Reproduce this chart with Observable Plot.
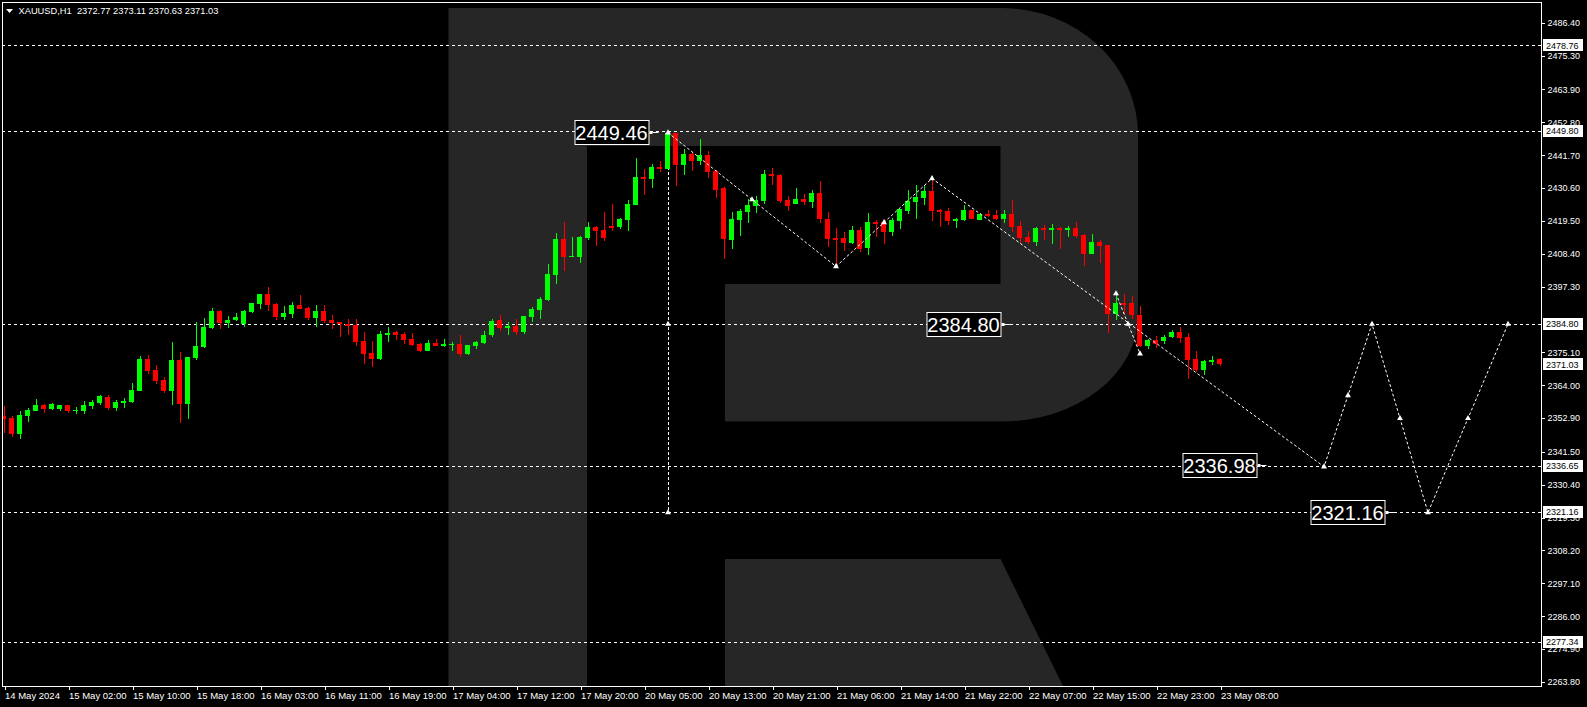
<!DOCTYPE html>
<html><head><meta charset="utf-8">
<script src="https://cdn.jsdelivr.net/npm/d3@7"></script>
<script src="https://cdn.jsdelivr.net/npm/@observablehq/plot@0.6"></script>
<style>
html,body{margin:0;padding:0;background:#000;}
#chart{width:1587px;height:707px;overflow:hidden;}
</style></head><body><div id="chart"></div>
<script>
// ---- Data (XAUUSD H1) ----
const opens = [2353.72,2353.05,2347.53,2353.61,2355.41,2357.33,2355.98,2356.09,2357.21,2355.41,2355.41,2356.99,2358.00,2360.03,2356.43,2358.00,2358.34,2362.17,2372.86,2369.15,2365.77,2362.17,2372.52,2357.78,2373.31,2376.91,2383.44,2389.07,2385.13,2386.14,2384.68,2388.85,2391.55,2394.81,2391.43,2387.16,2388.17,2391.10,2390.08,2386.82,2389.07,2386.03,2385.36,2384.79,2384.34,2378.94,2374.89,2372.86,2381.08,2381.98,
2381.31,2379.62,2377.93,2375.57,2378.27,2377.25,2377.70,2377.93,2374.55,2377.25,2378.27,2380.97,2386.03,2383.45,2384.01,2381.98,2387.05,2389.41,2392.79,2401.23,2413.39,2407.31,2407.31,2413.73,2417.44,2416.43,2417.89,2417.44,2419.80,2424.87,2434.32,2433.65,2437.70,2437.03,2449.20,2438.38,2442.09,2439.73,2441.75,2436.35,2430.61,2413.05,2419.81,2422.51,2424.53,2426.22,2435.34,2435.00,2426.56,2425.21,
2426.90,2425.88,2428.92,2420.14,2413.73,2413.73,2412.04,2416.43,2410.35,2419.13,2419.13,2415.75,2419.47,2422.85,2425.88,2427.24,2429.60,2423.18,2422.85,2419.47,2419.81,2423.18,2419.81,2421.83,2421.49,2420.14,2421.82,2417.77,2414.06,2412.37,2417.10,2416.53,2417.10,2416.53,2417.10,2414.73,2408.32,2412.37,2411.36,2388.05,2391.77,2391.77,2387.72,2377.25,2379.27,2378.94,2380.29,2381.98,2380.29,2372.86,
2369.14,2371.84,2372.77];
const highs = [2356.99,2353.61,2355.30,2356.31,2359.35,2357.66,2358.11,2357.21,2357.21,2356.65,2358.68,2359.01,2360.70,2360.70,2359.01,2359.69,2364.76,2373.87,2374.21,2370.83,2366.78,2378.60,2375.22,2373.54,2385.36,2386.71,2390.08,2389.41,2387.38,2388.40,2389.41,2391.77,2394.81,2397.18,2391.77,2390.76,2392.11,2394.47,2390.42,2391.10,2391.10,2387.72,2385.36,2386.37,2386.37,2381.98,2378.94,2382.32,2383.67,2382.32,
2381.98,2381.64,2378.27,2379.28,2379.62,2379.62,2378.61,2380.97,2377.59,2378.94,2382.32,2386.37,2387.72,2385.36,2386.37,2387.39,2390.42,2393.80,2404.95,2415.42,2419.13,2414.06,2414.40,2419.13,2417.78,2422.51,2425.21,2420.48,2426.56,2440.74,2437.03,2438.71,2439.73,2449.46,2449.30,2443.78,2442.77,2447.16,2443.10,2436.69,2430.95,2422.51,2423.52,2426.90,2427.91,2436.69,2437.37,2435.34,2427.91,2430.61,
2428.59,2429.94,2432.98,2422.51,2417.10,2415.75,2417.78,2417.44,2422.17,2419.81,2420.14,2420.48,2423.52,2429.94,2431.63,2431.63,2433.99,2423.52,2423.86,2420.48,2424.87,2423.30,2422.17,2423.18,2423.18,2423.18,2426.55,2419.46,2416.08,2417.43,2418.11,2418.45,2417.43,2417.77,2419.12,2415.07,2415.07,2413.04,2411.50,2394.13,2394.81,2394.13,2390.76,2379.61,2380.62,2380.96,2382.65,2383.66,2381.64,2375.56,
2372.52,2373.87,2373.11];
const lows = [2347.76,2346.63,2345.84,2351.70,2355.30,2354.74,2355.64,2355.30,2354.74,2354.40,2354.40,2356.09,2357.44,2355.64,2355.41,2356.31,2358.00,2362.00,2367.91,2364.53,2361.38,2357.33,2351.36,2352.71,2372.52,2376.58,2382.99,2382.99,2383.44,2385.81,2383.78,2388.51,2389.86,2389.18,2386.14,2386.14,2386.82,2389.86,2386.14,2383.78,2385.13,2383.10,2380.40,2381.08,2377.36,2371.28,2370.27,2372.52,2378.71,2379.39,
2377.93,2377.25,2375.23,2375.40,2377.25,2376.92,2375.57,2373.54,2374.21,2376.24,2377.93,2380.29,2382.32,2380.97,2380.97,2381.31,2385.36,2386.37,2392.60,2398.19,2402.58,2407.20,2405.28,2413.05,2411.03,2412.71,2416.09,2416.77,2416.09,2424.70,2428.24,2430.61,2436.01,2436.90,2431.28,2435.00,2436.35,2438.38,2433.99,2427.23,2406.64,2410.01,2414.40,2418.79,2422.17,2425.21,2431.63,2425.55,2422.85,2425.10,
2424.87,2423.86,2418.79,2410.69,2404.27,2409.34,2411.70,2409.00,2407.99,2414.06,2411.70,2414.40,2416.77,2421.83,2420.14,2424.87,2419.47,2417.44,2418.12,2417.10,2419.47,2420.00,2419.70,2420.82,2419.81,2418.79,2415.75,2412.03,2411.69,2411.02,2413.04,2411.69,2410.01,2414.06,2413.72,2404.26,2408.20,2405.28,2381.64,2386.03,2387.72,2386.37,2376.91,2376.23,2376.57,2377.92,2379.95,2378.26,2366.10,2368.47,
2367.45,2370.83,2370.63];
const closes = [2352.60,2347.53,2353.95,2355.64,2357.33,2355.98,2357.66,2357.21,2355.41,2355.75,2357.33,2358.34,2360.37,2356.43,2358.34,2358.68,2362.39,2372.86,2368.81,2365.54,2362.17,2372.52,2357.78,2373.54,2377.25,2383.67,2389.07,2385.13,2386.03,2387.04,2389.07,2391.77,2394.81,2391.21,2387.16,2388.40,2391.10,2389.86,2386.82,2389.07,2385.81,2385.13,2384.57,2384.34,2378.71,2374.66,2372.86,2381.30,2381.64,2381.08,
2379.39,2377.59,2375.57,2378.27,2377.25,2377.93,2378.04,2374.55,2377.59,2378.61,2380.97,2385.70,2383.33,2384.01,2381.98,2387.39,2389.75,2393.13,2401.57,2413.39,2407.31,2407.65,2414.06,2417.44,2416.09,2413.73,2417.55,2420.14,2425.21,2434.32,2433.76,2437.70,2437.03,2449.18,2438.38,2442.09,2439.73,2441.75,2436.01,2429.93,2413.39,2420.14,2422.85,2424.87,2426.56,2435.34,2434.78,2426.22,2424.53,2426.90,
2425.88,2428.92,2420.14,2413.39,2413.39,2412.04,2416.43,2410.01,2419.13,2418.46,2415.75,2419.81,2423.52,2426.22,2427.57,2429.60,2422.85,2422.62,2419.47,2420.14,2423.18,2420.14,2421.83,2421.49,2420.14,2421.82,2417.43,2413.72,2412.37,2417.10,2416.65,2417.10,2416.53,2417.10,2414.40,2408.32,2412.37,2411.02,2388.05,2391.77,2391.43,2387.72,2377.25,2379.27,2377.92,2380.29,2381.98,2379.95,2372.52,2369.14,
2372.18,2372.52,2371.03];

const xTickBars = [0,8,16,24,32,40,48,56,64,72,80,88,96,104,112,120,128,136,144,152];
const xTickLabels = ["14 May 2024","15 May 02:00","15 May 10:00","15 May 18:00","16 May 03:00","16 May 11:00","16 May 19:00","17 May 04:00","17 May 12:00","17 May 20:00","20 May 05:00","20 May 13:00","20 May 21:00","21 May 06:00","21 May 14:00","21 May 22:00","22 May 07:00","22 May 15:00","22 May 23:00","23 May 08:00"];
const yTickValues = [2486.40,2475.30,2463.90,2452.80,2441.70,2430.60,2419.50,2408.40,2397.30,2375.10,2364.00,2352.90,2341.50,2330.40,2319.30,2308.20,2297.10,2286.00,2274.90,2263.80];

const levelPrices = [2478.76,2449.80,2384.80,2336.65,2321.16,2277.34];
const currentPrice = 2371.03;

const zigzagBars   = [83,104,116,165,171,178,188];
const zigzagPrices = [2449.46,2404.27,2433.99,2336.65,2384.80,2321.16,2384.80];
const waveBars   = [139,142];
const wavePrices = [2395.10,2374.80];
const verticalBar = 83;
const verticalPrices = [2449.46,2321.16];
const markerBars   = [83,93.5,104,110,116,139,140.5,142,165,168,171,174.5,178,183,188,83,83];
const markerPrices = [2449.46,2426.87,2404.27,2419.13,2433.99,2395.10,2384.80,2374.80,2336.65,2360.70,2384.80,2352.98,2321.16,2352.98,2384.80,2384.80,2321.16];
const labelPrices = [2449.46,2384.80,2336.98,2321.16];
const labelBars   = [82,126,158,174];
const titleText = "XAUUSD,H1  2372.77 2373.11 2370.63 2371.03";

// ---- Build tables ----
const bars = opens.map((o, i) => ({i, o, h: highs[i], l: lows[i], c: closes[i], col: closes[i] >= o ? "#00ff00" : "#ff0000"}));
const zigzag = zigzagBars.map((b, k) => ({b, p: zigzagPrices[k]}));
const wave = waveBars.map((b, k) => ({b, p: wavePrices[k]}));
const markers = markerBars.map((b, k) => ({b, p: markerPrices[k]}));
const labels = labelPrices.map((p, k) => ({p, b: labelBars[k]}));

const W = 1587, H = 707, mL = 2, mR = 46, mT = 2, mB = 21;
const HALF = 0.3125; // half body width in bar units
const FONT = "'Liberation Sans', Arial, sans-serif";

// Watermark (decorative "R" logo), drawn in frame pixel space
function logoMark(index, scales, values, dim) {
  const g = d3.create("svg:g").attr("fill", "#262626");
  const b = dim.height - dim.marginBottom;
  g.append("path").attr("d",
    `M448.5,8 H1002 A136,127 0 0 1 1138,135 V315 A136,106 0 0 1 1002,421.6 H725 V284 H1000.5 V146 H587 V${b} H448.5 Z`);
  g.append("path").attr("d", `M725,559 H1000.5 L1063,${b} H725 Z`);
  return g.node();
}

// Highlighted price boxes on the right axis
function axisBoxes(index, scales, values, dim) {
  const g = d3.create("svg:g").attr("text-anchor", "start");
  const x0 = dim.width - dim.marginRight;
  for (const p of [...levelPrices, currentPrice]) {
    const y = scales.y(p);
    g.append("rect").attr("x", x0 + 2).attr("y", Math.round(y) - 6).attr("width", 40).attr("height", 12).attr("fill", "#fff");
    g.append("text").attr("x", x0 + 5).attr("y", y).attr("dy", "0.36em").attr("text-anchor", "start")
      .attr("fill", "#000").attr("font-size", 9).attr("font-family", FONT).text(p.toFixed(2));
  }
  return g.node();
}

// In-chart price labels (box + pointer)
function priceLabels(index, scales, values, dim) {
  const g = d3.create("svg:g");
  for (const d of labels) {
    const tip = scales.x(d.b), y = Math.round(scales.y(d.p)) + 0.5;
    const right = tip - 11, w = 74, h = 24;
    g.append("rect").attr("x", right - w + 0.5).attr("y", y - h / 2).attr("width", w).attr("height", h)
      .attr("fill", "#000").attr("stroke", "#fff").attr("stroke-width", 1);
    g.append("text").attr("x", right - w / 2).attr("y", y).attr("dy", "0.36em").attr("text-anchor", "middle")
      .attr("fill", "#fff").attr("font-size", 20).attr("font-family", FONT).text(d.p.toFixed(2));
    g.append("rect").attr("x", right + 1).attr("y", y - 1.5).attr("width", 3).attr("height", 3).attr("fill", "#fff");
    g.append("line").attr("x1", right + 4).attr("x2", tip - 1).attr("y1", y).attr("y2", y).attr("stroke", "#fff");
  }
  return g.node();
}

function titleDeco(index, scales, values, dim) {
  const g = d3.create("svg:g");
  g.append("path").attr("d", "M6,9 H13 L9.5,13 Z").attr("fill", "#fff");
  return g.node();
}

const chart = Plot.plot({
  width: W, height: H,
  marginLeft: mL, marginRight: mR, marginTop: mT, marginBottom: mB,
  style: {background: "#000", color: "#fff", fontFamily: FONT, fontSize: "9px", overflow: "hidden"},
  x: {domain: [-0.1875, 192.1875], axis: null},
  y: {domain: [2262.42, 2493.42], axis: null},
  color: {type: "identity"},
  marks: [
    logoMark,
    Plot.ruleY(levelPrices, {y: d => d, stroke: "#fff", strokeDasharray: "3,3", shapeRendering: "crispEdges"}),
    Plot.ruleX([verticalBar], {x: d => d, y1: verticalPrices[0], y2: verticalPrices[1], stroke: "#fff", strokeDasharray: "3,2", shapeRendering: "crispEdges"}),
    Plot.ruleX(bars, {x: "i", y1: "l", y2: "h", stroke: "col", shapeRendering: "crispEdges", clip: true}),
    Plot.rect(bars, {x1: d => d.i - HALF, x2: d => d.i + HALF, y1: "o", y2: "c", fill: "col", shapeRendering: "crispEdges", clip: true}),
    Plot.ruleY(bars.filter(d => Math.abs(d.o - d.c) < 0.5), {y: "c", x1: d => d.i - HALF, x2: d => d.i + HALF, stroke: "col", shapeRendering: "crispEdges", clip: true}),
    Plot.line(zigzag, {x: "b", y: "p", stroke: "#fff", strokeWidth: 1, strokeDasharray: "2,3"}),
    Plot.line(wave, {x: "b", y: "p", stroke: "#fff", strokeWidth: 1, strokeDasharray: "2,3"}),
    Plot.dot(markers, {x: "b", y: "p", r: 2.2, symbol: "triangle", fill: "#fff"}),
    priceLabels,
    Plot.frame({stroke: "#fff", shapeRendering: "crispEdges"}),
    Plot.axisX(xTickBars, {anchor: "bottom", tickSize: 4, tickPadding: 2, textAnchor: "start", dx: 1,
      tickFormat: d => xTickLabels[xTickBars.indexOf(d)], fontSize: 9.5, fill: "#fff", stroke: "#fff", shapeRendering: "crispEdges"}),
    Plot.axisY(yTickValues, {anchor: "right", tickSize: 3, tickPadding: 3, tickFormat: d => d.toFixed(2), fontSize: 9, fill: "#fff", stroke: "#fff", shapeRendering: "crispEdges"}),
    axisBoxes,
    titleDeco,
    Plot.text([titleText], {frameAnchor: "top-left", dx: 16, dy: 5, lineAnchor: "top", textAnchor: "start", fill: "#fff", fontSize: 9.3})
  ]
});
document.getElementById("chart").appendChild(chart);
</script>
</body></html>
